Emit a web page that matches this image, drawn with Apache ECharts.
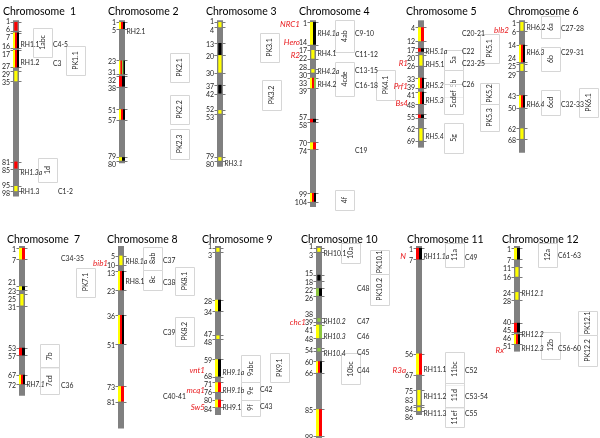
<!DOCTYPE html>
<html><head><meta charset="utf-8">
<script src="https://cdn.jsdelivr.net/npm/echarts@6/dist/echarts.min.js"></script>
<style>html,body{margin:0;padding:0;background:#fff}#c{width:600px;height:438px}</style>
</head><body><div id="c"></div><script>
// ---------------- DATA ----------------
const chromosomeTitles = ['Chromosome  1','Chromosome 2','Chromosome 3','Chromosome 4','Chromosome 5','Chromosome 6',
  'Chromosome  7','Chromosome 8','Chromosome 9','Chromosome 10','Chromosome 11','Chromosome 12'];
const chromosomeLengths = [101, 82, 84, 107, 73, 76, 78, 95, 88, 100, 88, 55];

// marker intervals: [start cM, end cM, traits present (Y/R/B/G)]
const chrSegments = [
  [[1,6,'R'],[7,16,'YRB'],[17,27,'YRB'],[29,35,'Y'],[81,85,'R'],[95,98,'Y']],
  [[1,5,'YRB'],[23,31,'YRGB'],[32,38,'RB'],[51,57,'YRB'],[79,80,'YB']],
  [[1,4,'Y'],[13,20,'B'],[20,30,'Y'],[37,42,'B'],[52,53,'Y'],[79,80,'Y']],
  [[1,14,'YB'],[17,22,'Y'],[28,30,'Y'],[33,39,'YRG'],[57,58,'RB'],[70,74,'YR'],[99,104,'YRB']],
  [[4,12,'YR'],[17,17,'RB'],[20,26,'Y'],[33,39,'YRB'],[41,48,'YRB'],[55,55,'RB'],[62,69,'Y']],
  [[1,6,'Y'],[14,24,'YRB'],[25,29,'Y'],[43,50,'YRB'],[62,68,'Y']],
  [[1,7,'YR'],[21,23,'YB'],[25,31,'Y'],[53,57,'RB'],[67,72,'YRB']],
  [[5,10,'Y'],[13,23,'YRB'],[36,51,'YRB'],[73,81,'YR']],
  [[1,3,'Y'],[28,34,'YB'],[47,48,'Y'],[59,68,'YB'],[71,76,'YR'],[80,84,'YR']],
  [[1,3,'Y'],[15,18,'B'],[22,26,'GB'],[38,39,'G'],[41,48,'YG'],[54,54,'G'],[60,66,'YRB'],[85,99,'YR']],
  [[1,7,'RB'],[56,67,'YR'],[75,83,'Y'],[84,86,'Y']],
  [[1,7,'YB'],[11,16,'Y'],[24,28,'Y'],[40,45,'RB'],[46,51,'YRB']]
];

// RH QTL names: [name, cM]
const qtlLabels = [
  [['RH1.1',14.2],['RH1.2',24.5],['RH1.3a',87.6],['RH1.3',98.4]],
  [['RH2.1',6.7]],
  [['RH3.1',82.4]],
  [['RH4.1a',7.9],['RH4.1',19.3],['RH4.2a',29.6],['RH4.2',37.0]],
  [['RH5.1a',18.2],['RH5.1',25.6],['RH5.2',37.7],['RH5.3',46.3],['RH5.4',66.9]],
  [['RH6.2',4.4],['RH6.3',18.8],['RH6.4',48.6]],
  [['RH7.1',72.3]],
  [['RH8.1a',8.2],['RH8.1',18.5]],
  [['RH9.1a',66.2],['RH9.1b',75.4],['RH9.1',84.1]],
  [['RH10.1',4.1],['RH10.2',39.5],['RH10.3',47.2],['RH10.4',55.9]],
  [['RH11.1a',5.6],['RH11.1',64.6],['RH11.2',78.5],['RH11.3',87.2]],
  [['RH12.1',25.1],['RH12.2',46.2],['RH12.3',53.3]]
];
const italicQtl = ['RH1.3a','RH3.1','RH4.1a','RH4.2a','RH5.1a','RH5.2','RH5.3','RH5.4','RH6.3','RH6.4','RH7.1',
  'RH8.1a','RH9.1a','RH9.1b','RH10.2','RH10.3','RH10.4','RH11.1a','RH12.1','RH12.2','RH12.3'];

// resistance genes: [name, cM]
const geneLabels = [
  [], [], [],
  [['NRC1',2.1],['Hero',12.4],['R2',19.9]],
  [['R1',24.5],['Prf1',38.2],['Bs4',47.4]],
  [['blb2',5.6]],
  [],
  [['bib1',9.2]],
  [['vnt1',64.6],['mcq1',75.4],['Sw5',84.1]],
  [['chc1',40.0]],
  [['N',5.6],['R3a',64.6]],
  [['Rx',54.4]]
];

// cluster labels: [name, cM]
const clusterLabels = [
  [['C4-5',14.2],['C3',25.1],['C1-2',98.4]],
  [], [],
  [['C9-10',7.9],['C11-12',19.9],['C13-15',29.1],['C16-18',37.7],['C19',74.9]],
  [['C20-21',7.9],['C22',18.2],['C23-25',25.1],['C26',37.1]],
  [['C27-28',5.0],['C29-31',18.8],['C32-33',48.6]],
  [['C34-35',6.7],['C36',72.8]],
  [['C37',7.7],['C38',19.0],['C39',45.1],['C40-41',78.5]],
  [['C42',74.9],['C43',83.6]],
  [['C48',22.1],['C47',39.5],['C46',47.2],['C45',55.4],['C44',65.1]],
  [['C49',6.2],['C52',65.1],['C53-54',78.5],['C55',87.2]],
  [['C61-63',5.1],['C56-60',53.3]]
];

// boxed intervals: [name, start cM, end cM]
const chrBoxes = [
  [['1abc',4.4,21.0],['1d',79.0,92.7],['PK1.1',14.7,31.4]],
  [['PK2.1',18.8,35.4],['PK2.2',42.8,59.5],['PK2.3',62.3,79.5]],
  [['PK3.1',7.3,23.9],['PK3.2',34.2,51.4]],
  [['4ab',0,18.2],['4cde',23.9,43.4],['4f',97.3,108.8],['PK4.1',28.5,45.7]],
  [['5a',17.0,28.5],['5b',28.5,44.0],['5cdef',36.5,53.7],['5g',58.9,76.1],['PK5.1',7.9,24.5],['PK5.2',36.0,48.0],['PK5.3',48.0,63.5]],
  [['6a',-2.5,10.1],['6b',15.3,29.1],['6cd',40.0,54.2],['PK6.1',38.8,55.4]],
  [['7b',51.3,63.6],['7cd',63.1,77.4],['PK7.1',11.3,26.2]],
  [['8ab',0.5,12.3],['8c',12.3,22.6],['PK8.1',10.8,25.6],['PK8.2',36.9,51.8]],
  [['9abc',56.9,70.8],['9e',70.8,80.0],['9f',80.0,88.2],['PK9.1',55.9,70.8]],
  [['10a',-1.5,8.7],['10bc',55.9,72.3],['PK10.1',2.1,14.4],['PK10.2',14.4,30.8]],
  [['11a',-1.5,10.8],['11bc',55.4,72.8],['11d',71.3,84.1],['11ef',84.1,94.4]],
  [['12a',-1.5,10.8],['12b',44.6,58.5],['PK12.1',33.8,46.2],['PK12.2',46.2,62.6]]
];

// ---------------- LAYOUT / STYLE ----------------
const layout = [
  {row:0, bar:13,  title:3,   a:33,  pk:66,  cx:53},
  {row:0, bar:119, title:108, a:0,   pk:170, cx:0},
  {row:0, bar:217, title:206, a:0,   pk:260, cx:0},
  {row:0, bar:310, title:299, a:335, pk:376, cx:355},
  {row:0, bar:418, title:406, a:444, pk:480, cx:462},
  {row:0, bar:519, title:508, a:541, pk:579, cx:561},
  {row:1, bar:19,  title:7,   a:40,  pk:76,  cx:61},
  {row:1, bar:118, title:107, a:143, pk:175, cx:163},
  {row:1, bar:215, title:202, a:241, pk:270, cx:260},
  {row:1, bar:316, title:301, a:341, pk:370, cx:357},
  {row:1, bar:416, title:407, a:445, pk:0,   cx:465},
  {row:1, bar:514, title:502, a:538, pk:578, cx:558}
];
const boxShift = {'1d':5, 'PK3.2':2, '12b':3};
const labelShift = {'C1-2':5};
const rows = [{top:20.3, max:110, scale:1.744, titleY:12}, {top:246, max:100, scale:1.95, titleY:240}];
const colours = {Y:'#ffff00', R:'#ff0000', B:'#000000', G:'#8cc63f'};
const BAR_W = 6, BOX_W = 19, FONT = 'Lato';

function relax(ys, gap) {
  for (let it = 0; it < 200; it++) {
    for (let i = 0; i < ys.length - 1; i++) {
      const d = ys[i+1] - ys[i];
      if (d < gap) { const m = (gap - d) / 2; ys[i] -= m; ys[i+1] += m; }
    }
  }
  return ys;
}
function txt(text, x, y, o) {
  return {type:'text', style:Object.assign({text:text, x:x, y:y, fill:'#262626', fontSize:6.8, fontFamily:FONT,
    align:'left', verticalAlign:'middle'}, o || {})};
}

const grids = [], xAxes = [], yAxes = [];
rows.forEach(r => {
  grids.push({left:0, top:r.top, width:600, height:r.max * r.scale});
  xAxes.push({type:'value', min:0, max:600, show:false, gridIndex:grids.length-1});
  yAxes.push({type:'value', min:0, max:r.max, inverse:true, show:false, gridIndex:grids.length-1});
});

const series = [];
const graphics = [];
chromosomeTitles.forEach((title, c) => {
  const L = layout[c];
  const ax = {xAxisIndex:L.row, yAxisIndex:L.row, coordinateSystem:'cartesian2d', clip:false, silent:true};
  graphics.push({type:'text', left:L.title, top:rows[L.row].titleY - 6,
    style:{text:title, fill:'#000', fontSize:10.5, fontFamily:FONT}});

  // chromosome body
  series.push(Object.assign({type:'custom', data:[[0, chromosomeLengths[c]]], z:1,
    renderItem:(p, api) => {
      const a = api.coord([L.bar, api.value(0)]), b = api.coord([L.bar, api.value(1)]);
      return {type:'rect', shape:{x:a[0], y:a[1], width:BAR_W, height:b[1]-a[1]}, style:{fill:'#808080'}};
    }}, ax));

  // marker intervals
  series.push(Object.assign({type:'custom', data:chrSegments[c].map(s => [s[0], s[1]]), z:2,
    renderItem:(p, api) => {
      const code = chrSegments[c][p.dataIndex][2];
      let y0 = api.coord([L.bar, api.value(0)])[1], y1 = api.coord([L.bar, api.value(1)])[1];
      if (y1 - y0 < 3.5) { const m = (y0 + y1) / 2; y0 = m - 1.75; y1 = m + 1.75; }
      const ch = [];
      [y0, y1].forEach(y => ch.push({type:'line', shape:{x1:L.bar-2.5, y1:Math.round(y)+0.5, x2:L.bar+BAR_W+2.5, y2:Math.round(y)+0.5},
        style:{stroke:'#7a7a7a', lineWidth:1}}));
      const n = code.length;
      const x0 = n === 1 ? L.bar + 1.3 : L.bar;
      const w = n === 1 ? 3.2 : BAR_W / n;
      for (let i = 0; i < n; i++) {
        ch.push({type:'rect', shape:{x:x0 + i*w, y:y0, width:w, height:y1-y0}, style:{fill:colours[code[i]]}});
      }
      return {type:'group', children:ch};
    }}, ax));

  // position numbers
  series.push(Object.assign({type:'custom', data:[[0]], z:3,
    renderItem:(p, api) => {
      let vals = [];
      chrSegments[c].forEach(s => { vals.push(s[0]); if (s[1] !== s[0]) vals.push(s[1]); });
      vals = Array.from(new Set(vals)).sort((a, b) => a - b);
      const ys = relax(vals.map(v => api.coord([0, v])[1]), 8.2);
      return {type:'group', children:vals.map((v, i) => txt(String(v), L.bar - 3, ys[i] + 1.5, {align:'right', fontSize:7}))};
    }}, ax));

  // QTL names
  series.push(Object.assign({type:'custom', data:qtlLabels[c].map(d => [d[1]]), z:3,
    renderItem:(p, api) => {
      const name = qtlLabels[c][p.dataIndex][0];
      const y = api.coord([0, api.value(0)])[1];
      return txt(name, L.bar + BAR_W + 1.5, y, {fontStyle: italicQtl.indexOf(name) >= 0 ? 'italic' : 'normal'});
    }}, ax));

  // resistance genes
  if (geneLabels[c].length) series.push(Object.assign({type:'custom', data:geneLabels[c].map(d => [d[1]]), z:3,
    renderItem:(p, api) => {
      const y = api.coord([0, api.value(0)])[1];
      return txt(geneLabels[c][p.dataIndex][0], L.bar - 10, y, {align:'right', fill:'#e8191c', fontStyle:'italic', fontSize:8});
    }}, ax));

  // cluster labels
  if (clusterLabels[c].length) series.push(Object.assign({type:'custom', data:clusterLabels[c].map(d => [d[1]]), z:3,
    renderItem:(p, api) => {
      const name = clusterLabels[c][p.dataIndex][0];
      const y = api.coord([0, api.value(0)])[1];
      return txt(name, L.cx + (labelShift[name] || 0), y);
    }}, ax));

  // boxes
  if (chrBoxes[c].length) series.push(Object.assign({type:'custom', data:chrBoxes[c].map(d => [d[1], d[2]]), z:2,
    renderItem:(p, api) => {
      const name = chrBoxes[c][p.dataIndex][0];
      const x = (name.indexOf('PK') === 0 ? L.pk : L.a) + (boxShift[name] || 0);
      const y0 = api.coord([0, api.value(0)])[1], y1 = api.coord([0, api.value(1)])[1];
      return {type:'group', children:[
        {type:'rect', shape:{x:x+0.5, y:Math.round(y0)+0.5, width:BOX_W, height:Math.round(y1-y0)}, style:{fill:'rgba(255,255,255,0.6)', stroke:'#d6d6d6', lineWidth:1}},
        {type:'text', x:x + BOX_W/2 + 0.5, y:(y0+y1)/2, rotation:Math.PI/2,
          style:{text:name, x:0, y:0, align:'center', verticalAlign:'middle', fill:'#262626', fontSize:7, fontFamily:FONT}}
      ]};
    }}, ax));
});

const chart = echarts.init(document.getElementById('c'), null, {renderer:'canvas'});
chart.setOption({animation:false, backgroundColor:'#fff', grid:grids, xAxis:xAxes, yAxis:yAxes, series:series, graphic:graphics});
</script></body></html>
